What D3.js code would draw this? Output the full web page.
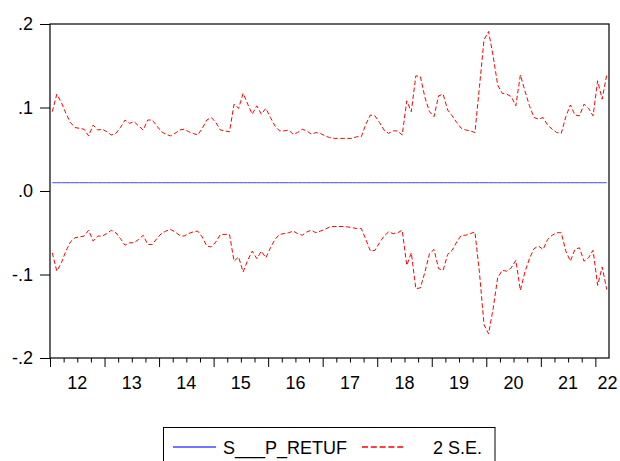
<!DOCTYPE html>
<html>
<head>
<meta charset="utf-8">
<script src="https://cdn.jsdelivr.net/npm/d3@7"></script>
<style>
  body { margin: 0; background: #fff; }
  svg { display: block; }
  text { font-family: "Liberation Sans", Arial, sans-serif; fill: #000; }
</style>
</head>
<body>
<svg id="chart" width="620" height="461"></svg>
<script>
// Monthly observations 2012M01 .. 2022M03
const yearLabels = ["12", "13", "14", "15", "16", "17", "18", "19", "20", "21", "22"];
const yTicks = [-0.2, -0.1, 0, 0.1, 0.2];
const yTickLabels = ["-.2", "-.1", ".0", ".1", ".2"];
const legendLabels = ["S___P_RETUF", "2 S.E."];

// flat series level
const residLevel = 0.0099;

// +2 S.E. band
const upperBand = [
  0.095, 0.116, 0.106, 0.093, 0.082, 0.076, 0.075, 0.074, 0.066, 0.079,
  0.073, 0.074, 0.071, 0.067, 0.069, 0.076, 0.085, 0.081, 0.083, 0.078,
  0.073, 0.085, 0.085, 0.078, 0.071, 0.068, 0.066, 0.069, 0.073, 0.074,
  0.071, 0.069, 0.067, 0.075, 0.085, 0.088, 0.082, 0.073, 0.072, 0.071,
  0.104, 0.099, 0.117, 0.104, 0.092, 0.102, 0.092, 0.099, 0.088, 0.078,
  0.072, 0.072, 0.073, 0.068, 0.070, 0.074, 0.072, 0.068, 0.070, 0.069,
  0.066, 0.064, 0.063, 0.063, 0.063, 0.063, 0.063, 0.065, 0.065, 0.080,
  0.091, 0.090, 0.082, 0.073, 0.069, 0.072, 0.072, 0.067, 0.108, 0.095,
  0.138, 0.137, 0.112, 0.095, 0.089, 0.114, 0.116, 0.097, 0.090, 0.082,
  0.075, 0.073, 0.072, 0.070, 0.125, 0.181, 0.191, 0.162, 0.127, 0.117,
  0.116, 0.113, 0.102, 0.139, 0.120, 0.102, 0.088, 0.086, 0.088, 0.079,
  0.074, 0.070, 0.069, 0.089, 0.103, 0.091, 0.090, 0.104, 0.099, 0.090,
  0.132, 0.110, 0.139
];

// -2 S.E. band
const lowerBand = [
  -0.074, -0.096, -0.086, -0.072, -0.061, -0.056, -0.055, -0.054, -0.047, -0.060,
  -0.054, -0.054, -0.051, -0.047, -0.050, -0.057, -0.065, -0.062, -0.062, -0.058,
  -0.053, -0.064, -0.064, -0.057, -0.051, -0.048, -0.046, -0.049, -0.053, -0.054,
  -0.051, -0.049, -0.048, -0.055, -0.066, -0.067, -0.061, -0.052, -0.052, -0.052,
  -0.084, -0.079, -0.097, -0.083, -0.072, -0.081, -0.072, -0.080, -0.068, -0.058,
  -0.052, -0.051, -0.050, -0.048, -0.051, -0.053, -0.049, -0.047, -0.050, -0.048,
  -0.046, -0.043, -0.0425, -0.0425, -0.0425, -0.043, -0.044, -0.045, -0.045, -0.058,
  -0.072, -0.071, -0.062, -0.054, -0.049, -0.051, -0.050, -0.047, -0.089, -0.074,
  -0.117, -0.116, -0.097, -0.075, -0.070, -0.093, -0.095, -0.076, -0.071, -0.061,
  -0.053, -0.053, -0.051, -0.049, -0.098, -0.160, -0.171, -0.141, -0.104, -0.095,
  -0.096, -0.092, -0.083, -0.119, -0.097, -0.081, -0.069, -0.066, -0.070, -0.058,
  -0.053, -0.050, -0.050, -0.072, -0.084, -0.070, -0.068, -0.084, -0.080, -0.071,
  -0.113, -0.091, -0.118
];

const svg = d3.select("#chart");
const frame = { left: 50, right: 609, top: 24, bottom: 358 };
const blue = "#4646ff", red = "#ff0000";

const n = upperBand.length;
// each observation sits in the middle of its period slot
const x = d3.scaleLinear().domain([-0.5, n - 0.5]).range([frame.left, frame.right]);
const y = d3.scaleLinear().domain([-0.2, 0.2]).range([frame.bottom, frame.top]);

// Frame
svg.append("rect")
  .attr("x", frame.left).attr("y", frame.top)
  .attr("width", frame.right - frame.left)
  .attr("height", frame.bottom - frame.top)
  .attr("fill", "none").attr("stroke", "#000").attr("stroke-width", 1.2);

// Y axis
const yAxis = svg.append("g")
  .attr("transform", `translate(${frame.left},0)`)
  .call(d3.axisLeft(y).tickValues(yTicks).tickSize(10).tickPadding(7)
    .tickFormat((d, i) => yTickLabels[i]));
yAxis.select(".domain").remove();
yAxis.selectAll("line").attr("stroke", "#000");
yAxis.selectAll("text").style("font-size", "18px").attr("fill", "#000");

// X axis: quarterly minor ticks, yearly major ticks (on period boundaries)
const idx = d3.range(n);
const minorTicks = idx.filter(i => i % 3 === 0 && i % 12 !== 0).map(i => i - 0.5);
const majorTicks = idx.filter(i => i % 12 === 0).map(i => i - 0.5);

const xMinor = svg.append("g")
  .attr("transform", `translate(0,${frame.bottom})`)
  .call(d3.axisBottom(x).tickValues(minorTicks).tickSize(4.5).tickFormat(""));
xMinor.select(".domain").remove();

const xMajor = svg.append("g")
  .attr("transform", `translate(0,${frame.bottom})`)
  .call(d3.axisBottom(x).tickValues(majorTicks).tickSize(9).tickFormat(""));
xMajor.select(".domain").remove();
svg.selectAll(".tick line").attr("stroke", "#000");

// Year labels centred in each year
svg.append("g").selectAll("text")
  .data(yearLabels)
  .join("text")
  .attr("x", (d, i) => Math.min(x(i * 12 + 5.5), frame.right - 1.5))
  .attr("y", 388.5)
  .attr("text-anchor", "middle")
  .style("font-size", "18px")
  .text(d => d);

// Series
const line = d3.line().x((d, i) => x(i)).y(d => y(d));

svg.append("path")
  .datum(idx.map(() => residLevel))
  .attr("d", line)
  .style("fill", "none")
  .style("stroke", blue)
  .style("stroke-width", 1);

[upperBand, lowerBand].forEach(band => {
  svg.append("path")
    .datum(band)
    .attr("d", line)
    .style("fill", "none")
    .style("stroke", red)
    .style("stroke-width", 1)
    .style("stroke-dasharray", "4.5,2.5");
});

// Legend
const legend = svg.append("g");
legend.append("rect")
  .attr("x", 163.5).attr("y", 427.5)
  .attr("width", 331.5).attr("height", 50)
  .style("fill", "#fff").style("stroke", "#000").style("stroke-width", 1);
legend.append("path")
  .attr("d", "M173,447H216")
  .style("fill", "none")
  .style("stroke", blue)
  .style("stroke-width", 1.3);
legend.append("text")
  .attr("x", 223).attr("y", 453.5)
  .style("font-size", "18px")
  .text(legendLabels[0]);
legend.append("path")
  .attr("d", "M362,447H405")
  .style("fill", "none")
  .style("stroke", red)
  .style("stroke-width", 1.3)
  .style("stroke-dasharray", "6,2.8");
legend.append("text")
  .attr("x", 433).attr("y", 453.5)
  .style("font-size", "18px")
  .text(legendLabels[1]);
</script>
</body>
</html>
